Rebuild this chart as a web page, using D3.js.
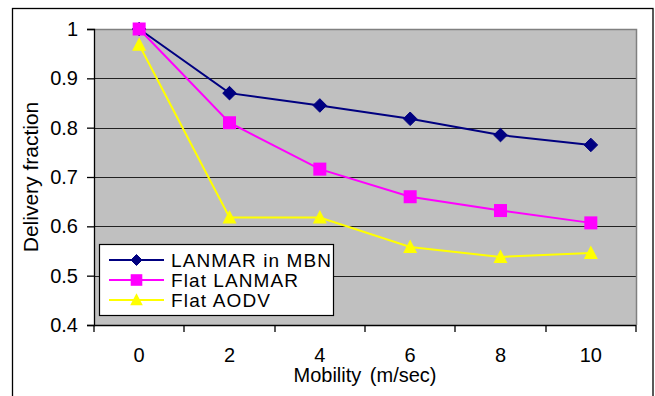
<!DOCTYPE html>
<html>
<head>
<meta charset="utf-8">
<script src="https://cdn.jsdelivr.net/npm/d3@7"></script>
<style>
html,body{margin:0;padding:0;background:#fff;}
svg{display:block;font-family:"Liberation Sans",Arial,sans-serif;}
</style>
</head>
<body>
<svg id="chart" width="655" height="396"></svg>
<script>
const categories = ["0","2","4","6","8","10"];
const lanmarMBN = [1.0, 0.870, 0.845, 0.818, 0.785, 0.765];
const flatLanmar = [1.0, 0.810, 0.716, 0.660, 0.632, 0.607];
const flatAODV = [0.968, 0.618, 0.618, 0.558, 0.538, 0.546];
const yTicks = [0.4, 0.5, 0.6, 0.7, 0.8, 0.9, 1];
const yTickLabels = ["0.4","0.5","0.6","0.7","0.8","0.9","1"];
const seriesNames = ["LANMAR in MBN","Flat LANMAR","Flat AODV"];
const xTitle = "Mobility (m/sec)";
const yTitle = "Delivery fraction";

const series = [
  {name: seriesNames[0], values: lanmarMBN, color: "#000080", marker: "diamond", w: 160},
  {name: seriesNames[1], values: flatLanmar, color: "#FF00FF", marker: "square", w: 127},
  {name: seriesNames[2], values: flatAODV, color: "#FFFF00", marker: "triangle", w: 99}
];

const svg = d3.select("#chart");
const L = 94, R = 636, T = 29, B = 325;

// outer frame
svg.append("rect").attr("x",12.5).attr("y",8.5).attr("width",640.5).attr("height",400)
  .attr("fill","#fff").attr("stroke","#000").attr("stroke-width",1.3);

const x = d3.scaleBand().domain(categories).range([L, R]).padding(0);
const y = d3.scaleLinear().domain([0.4, 1]).range([B, T]);
const cx = c => x(c) + x.bandwidth()/2;

// plot area
svg.append("rect").attr("x",L).attr("y",T).attr("width",R-L).attr("height",B-T)
  .attr("fill","#C0C0C0");

// gridlines
svg.append("g").selectAll("line").data(yTicks.filter(t => t > 0.4 && t < 1)).join("line")
  .attr("x1",L).attr("x2",R)
  .attr("y1",d => Math.round(y(d))+0.5).attr("y2",d => Math.round(y(d))+0.5)
  .attr("stroke","#222").attr("stroke-width",1);

// plot border top/right gray
svg.append("path")
  .attr("d",`M${L},${T+0.5}H${R+0.5}V${B}`)
  .attr("fill","none").attr("stroke","#808080").attr("stroke-width",1.5);

// y axis
const yAxis = d3.axisLeft(y).tickValues(yTicks)
  .tickFormat((d,i) => yTickLabels[i]).tickSize(7).tickPadding(9);
const gy = svg.append("g").attr("transform",`translate(${L},0)`).call(yAxis);
gy.select(".domain").attr("stroke","#000").attr("stroke-width",1.3);
gy.selectAll(".tick line").attr("stroke","#000").attr("stroke-width",1.3);
gy.selectAll(".tick text").attr("font-size","20px").attr("fill","#000")
  .attr("font-family","'Liberation Sans',Arial,sans-serif");

// x axis with ticks at band boundaries
const gx = svg.append("g").attr("transform",`translate(0,${B})`);
gx.append("line").attr("x1",L).attr("x2",R).attr("y1",0.5).attr("y2",0.5)
  .attr("stroke","#000").attr("stroke-width",1.3);
const boundaries = categories.map(c => x(c)).concat([x(categories[categories.length-1]) + x.bandwidth()]);
gx.selectAll("line.tk").data(boundaries).join("line").attr("class","tk")
  .attr("x1",d => Math.round(d)).attr("x2",d => Math.round(d))
  .attr("y1",0).attr("y2",7).attr("stroke","#000").attr("stroke-width",1.3);
gx.selectAll("text").data(categories).join("text")
  .attr("x",d => cx(d)).attr("y",37).attr("text-anchor","middle")
  .attr("font-size","20px").attr("fill","#000").text(d => d);

// axis titles
svg.append("text").attr("x",(L+R)/2).attr("y",382).attr("text-anchor","middle")
  .attr("font-size","20px").attr("word-spacing","3px").attr("fill","#000").text(xTitle);
svg.append("text").attr("transform",`translate(38,${(T+B)/2}) rotate(-90)`)
  .attr("text-anchor","middle").attr("font-size","21px").attr("fill","#000").text(yTitle);

// markers
function drawMarker(g, type, px, py, color, s) {
  if (type === "diamond") {
    g.append("path").attr("d",`M${px},${py-s}L${px+s},${py}L${px},${py+s}L${px-s},${py}Z`)
      .attr("fill",color).attr("stroke",color).attr("stroke-width",1);
  } else if (type === "square") {
    g.append("rect").attr("x",px-s).attr("y",py-s).attr("width",2*s).attr("height",2*s)
      .attr("fill",color);
  } else {
    g.append("path").attr("d",`M${px},${py-s-1}L${px+s+0.5},${py+s-0.5}L${px-s-0.5},${py+s-0.5}Z`)
      .attr("fill",color);
  }
}

const line = d3.line().x((d,i) => cx(categories[i])).y(d => y(d));
const sizes = {diamond: 6.8, square: 6.5, triangle: 6.5};
series.forEach(s => {
  const g = svg.append("g");
  g.append("path").datum(s.values).attr("d",line).attr("fill","none")
    .attr("stroke",s.color).attr("stroke-width",2);
  s.values.forEach((v,i) => drawMarker(g, s.marker, cx(categories[i]), y(v), s.color, sizes[s.marker]));
});

// legend
const lg = svg.append("g");
lg.append("rect").attr("x",99.5).attr("y",244.5).attr("width",234).attr("height",71)
  .attr("fill","#fff").attr("stroke","#000").attr("stroke-width",1.2);
series.forEach((s,i) => {
  const ry = 260 + i*20;
  lg.append("line").attr("x1",109).attr("x2",164).attr("y1",ry).attr("y2",ry)
    .attr("stroke",s.color).attr("stroke-width",2);
  drawMarker(lg, s.marker, 136.5, ry, s.color, s.marker === "diamond" ? 5.5 : 5.8);
  lg.append("text").attr("x",171).attr("y",ry+7).attr("font-size","19px")
    .attr("textLength",s.w).attr("lengthAdjust","spacing")
    .attr("fill","#000").text(s.name);
});
</script>
</body>
</html>
